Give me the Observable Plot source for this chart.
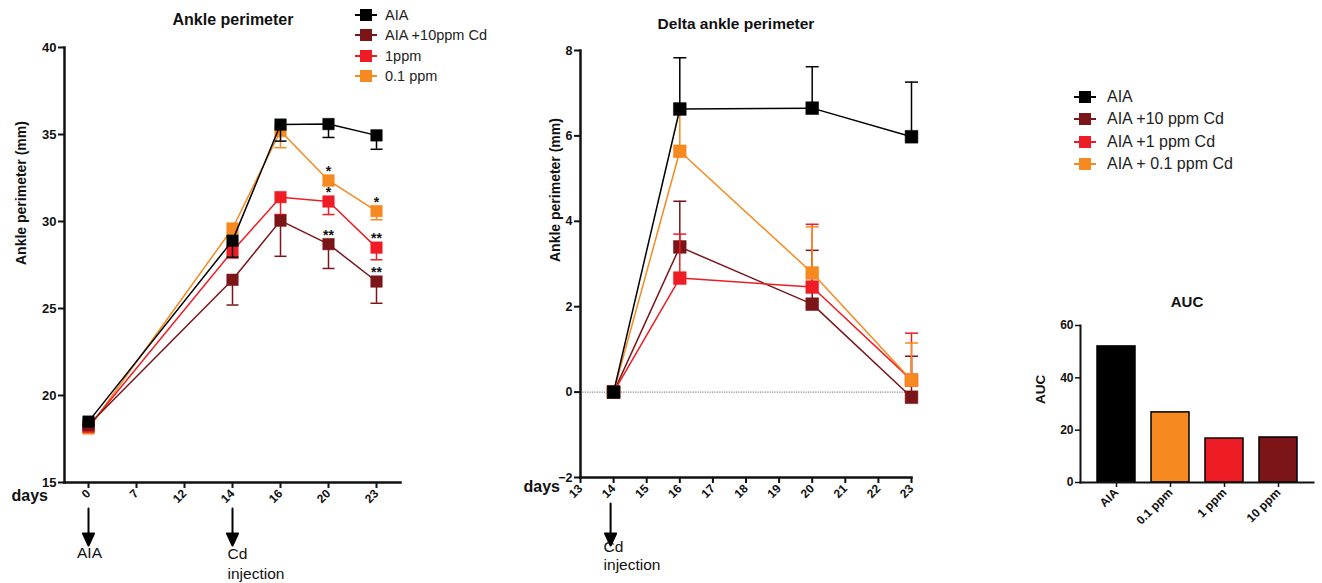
<!DOCTYPE html>
<html><head><meta charset="utf-8">
<script src="https://cdn.jsdelivr.net/npm/d3@7"></script>
<script src="https://cdn.jsdelivr.net/npm/@observablehq/plot@0.6"></script>
<style>
body{margin:0;background:#fff;font-family:"Liberation Sans",Arial,sans-serif;}
#wrap{position:relative;width:1322px;height:583px;overflow:hidden;background:#fff;}
.panel{position:absolute;top:0;}
.panel svg{overflow:visible;}
.title{position:absolute;font-weight:bold;transform:translateX(-50%);white-space:nowrap;color:#111;}
.legend{position:absolute;}
.legend .row{display:flex;align-items:center;white-space:nowrap;color:#222;}
.legend svg{display:block;}
</style>
</head><body>
<div id="wrap">
  <div class="panel" id="left" style="left:0px"></div>
  <div class="panel" id="mid" style="left:490px"></div>
  <div class="panel" id="auc" style="left:1030px;top:280px"></div>
  <div class="title" style="left:233px;top:11px;font-size:16px">Ankle perimeter</div>
  <div class="title" style="left:736px;top:15px;font-size:15.5px">Delta ankle perimeter</div>
  <div class="title" style="left:1187px;top:293px;font-size:15px">AUC</div>
  <div class="legend" id="legLeft" style="left:354px;top:5px"></div>
  <div class="legend" id="legRight" style="left:1073px;top:86px"></div>
</div>
<script>
// ---------- data ----------
const groups = ["AIA", "AIA +10ppm Cd", "1ppm", "0.1 ppm"];
const groupsRight = ["AIA", "AIA +10 ppm Cd", "AIA +1 ppm Cd", "AIA + 0.1 ppm Cd"];
const colors = ["#000000", "#7b1518", "#ee1d25", "#f6891f"];

const dayTicks = [0, 7, 12, 14, 16, 20, 23];
const perimDays = [0, 14, 16, 20, 23];
const perimAIA = [18.5, 28.9, 35.57, 35.6, 34.95];
const perim10  = [18.3, 26.65, 30.05, 28.7, 26.55];
const perim1   = [18.2, 28.3, 31.4, 31.15, 28.5];
const perim01  = [18.1, 29.6, 35.2, 32.36, 30.6];
const perimErrAIA = [0.2, 0.95, 0.95, 0.77, 0.8];
const perimErr10  = [0.2, 1.45, 2.05, 1.4, 1.25];
const perimErr1   = [0.2, 0.4, 1.0, 0.75, 0.7];
const perimErr01  = [0.2, 0.3, 0.96, 0.3, 0.5];
const starsAIA = ["", "", "", "", ""];
const stars10  = ["", "", "", "**", "**"];
const stars1   = ["", "", "", "*", "**"];
const stars01  = ["", "", "", "*", "*"];

const deltaDays = [14, 16, 20, 23];
const deltaTicks = [13, 14, 15, 16, 17, 18, 19, 20, 21, 22, 23];
const deltaAIA = [0, 6.63, 6.65, 5.98];
const delta10  = [0, 3.4, 2.06, -0.12];
const delta1   = [0, 2.67, 2.46, 0.28];
const delta01  = [0, 5.64, 2.79, 0.28];
const deltaErrAIA = [0, 1.2, 0.97, 1.28];
const deltaErr10  = [0, 1.07, 1.26, 0.96];
const deltaErr1   = [0, 1.03, 1.47, 1.1];
const deltaErr01  = [0, 0.95, 1.08, 0.87];

const aucGroups = ["AIA", "0.1 ppm", "1 ppm", "10 ppm"];
const aucValues = [52, 26.8, 16.8, 17.2];
const aucColors = ["#000000", "#f6891f", "#ee1d25", "#7b1518"];

const annotLeftAIA = [{day: 0, label: "AIA"}];
const annotLeftCd = [{day: 14, label: "Cd\ninjection"}];
const annotMid = [{day: 14, label: "Cd\ninjection"}];

// ---------- build tables ----------
const drawOrder = [3, 2, 1, 0]; // orange, red, maroon, black on top
const perimSeries = [perimAIA, perim10, perim1, perim01];
const perimErrs = [perimErrAIA, perimErr10, perimErr1, perimErr01];
const starSets = [starsAIA, stars10, stars1, stars01];
const deltaSeries = [deltaAIA, delta10, delta1, delta01];
const deltaErrs = [deltaErrAIA, deltaErr10, deltaErr1, deltaErr01];

const perimRows = drawOrder.flatMap(g => perimDays.map((d, i) => ({
  group: groups[g], color: colors[g], day: d, v: perimSeries[g][i],
  end: perimSeries[g][i] - perimErrs[g][i], star: starSets[g][i]
})));
const deltaRows = [1, 2, 3, 0].flatMap(g => deltaDays.map((d, i) => ({
  group: groups[g], color: colors[g], day: d, v: deltaSeries[g][i],
  end: deltaSeries[g][i] + deltaErrs[g][i]
})));
const aucRows = aucGroups.map((g, i) => ({group: g, v: aucValues[i], color: aucColors[i]}));

const capSymbol = {draw(ctx, size) { const w = Math.sqrt(size / Math.PI); ctx.moveTo(-w, 0); ctx.lineTo(w, 0); }};
const arrowShape = {draw(ctx, l, r) {
  ctx.moveTo(0, 0); ctx.lineTo(0, -l + 8);
  ctx.moveTo(-r, -l + 12); ctx.lineTo(0, -l); ctx.lineTo(r, -l + 12); ctx.closePath();
}};

const font = "Liberation Sans, Arial, sans-serif";
const baseStyle = {fontFamily: font, overflow: "visible", background: "transparent", color: "#111"};

function seriesMarks(rows, r, cap) {
  const marks = [];
  for (const g of [...new Set(rows.map(d => d.group))]) {
    const sub = rows.filter(d => d.group === g);
    const c = sub[0].color;
    marks.push(Plot.ruleX(sub.filter(d => d.end !== d.v), {x: "day", y1: "v", y2: "end", stroke: c, strokeWidth: 1.5}));
    marks.push(Plot.dot(sub.filter(d => d.end !== d.v), {x: "day", y: "end", symbol: capSymbol, r: cap, stroke: c, fill: "none", strokeWidth: 1.5}));
    marks.push(Plot.line(sub, {x: "day", y: "v", stroke: c, strokeWidth: 1.5}));
    marks.push(Plot.dot(sub, {x: "day", y: "v", symbol: "square", r: r, fill: c, stroke: c, strokeWidth: 0.5}));
  }
  return marks;
}

// ---------- left panel ----------
const left = Plot.plot({
  width: 460, height: 583,
  marginLeft: 64, marginRight: 60, marginTop: 47, marginBottom: 101,
  style: baseStyle,
  x: {type: "point", domain: dayTicks, padding: 0.45},
  y: {domain: [15, 40]},
  marks: [
    Plot.frame({anchor: "left", strokeWidth: 2.5}),
    Plot.frame({anchor: "bottom", strokeWidth: 2.5}),
    Plot.axisY({ticks: [15, 20, 25, 30, 35, 40], tickSize: 6, tickPadding: 2, strokeWidth: 2, fontWeight: "bold", fontSize: 13, label: null}),
    Plot.text(["Ankle perimeter (mm)"], {frameAnchor: "left", dx: -43, rotate: -90, fontSize: 14, fontWeight: "bold", fill: "#111"}),
    Plot.axisX({tickSize: 6, strokeWidth: 2, tickRotate: -45, tickPadding: 3, fontSize: 12, fontWeight: "bold", label: null}),
    Plot.text(["days"], {frameAnchor: "bottom-left", dx: -53, dy: 18, textAnchor: "start", fontSize: 16, fontWeight: "bold"}),
    ...seriesMarks(perimRows, 6.5, 6),
    Plot.text(perimRows.filter(d => d.star), {x: "day", y: "v", text: "star", dy: -9, fontSize: 14, fontWeight: "bold", fill: "#111"}),
    Plot.vector([...annotLeftAIA, ...annotLeftCd], {x: "day", frameAnchor: "bottom", dy: 26, length: 37, rotate: 180, anchor: "start", shape: arrowShape, r: 5.5, stroke: "#000", fill: "#000", strokeWidth: 2}),
    Plot.text(annotLeftAIA, {x: "day", frameAnchor: "bottom", dy: 64, dx: 1, text: "label", textAnchor: "middle", lineAnchor: "top", fontSize: 15.5, fill: "#111"}),
    Plot.text(annotLeftCd, {x: "day", frameAnchor: "bottom", dy: 63, dx: -5, text: "label", textAnchor: "start", lineAnchor: "top", fontSize: 15.5, lineHeight: 1.25, fill: "#111"})
  ]
});
document.getElementById("left").append(left);

// ---------- middle panel ----------
const mid = Plot.plot({
  width: 440, height: 583,
  marginLeft: 90, marginRight: 19, marginTop: 50, marginBottom: 106,
  style: baseStyle,
  x: {domain: [13, 23]},
  y: {domain: [-2, 8]},
  marks: [
    Plot.ruleY([0], {stroke: "#888", strokeDasharray: "1.2,1.2", strokeWidth: 1.2}),
    Plot.frame({anchor: "left", strokeWidth: 2.5}),
    Plot.frame({anchor: "bottom", strokeWidth: 2.5}),
    Plot.axisY({ticks: [-2, 0, 2, 4, 6, 8], tickSize: 6, tickPadding: 2, strokeWidth: 2, fontWeight: "bold", fontSize: 12.5, label: null}),
    Plot.text(["Ankle perimeter (mm)"], {frameAnchor: "left", dx: -25, dy: -2, rotate: -90, fontSize: 14, fontWeight: "bold", fill: "#111"}),
    Plot.axisX({ticks: deltaTicks, tickSize: 6, strokeWidth: 2, tickRotate: -45, tickPadding: 3, fontSize: 12, fontWeight: "bold", label: null}),
    Plot.text(["days"], {frameAnchor: "bottom-left", dx: -57, dy: 14, textAnchor: "start", fontSize: 16, fontWeight: "bold"}),
    ...seriesMarks(deltaRows, 7.2, 6.5),
    Plot.vector(annotMid, {x: "day", frameAnchor: "bottom", dy: 26, length: 42, rotate: 180, anchor: "start", shape: arrowShape, r: 5.5, stroke: "#000", fill: "#000", strokeWidth: 2, dx: -3}),
    Plot.text(annotMid, {x: "day", frameAnchor: "bottom", dy: 61, dx: -10, text: "label", textAnchor: "start", lineAnchor: "top", fontSize: 15.5, lineHeight: 1.2, fill: "#111"})
  ]
});
document.getElementById("mid").append(mid);

// ---------- AUC panel ----------
const auc = Plot.plot({
  width: 292, height: 303,
  marginLeft: 50, marginRight: 9, marginTop: 45, marginBottom: 101,
  style: baseStyle,
  x: {type: "band", domain: aucGroups, padding: 0.3},
  y: {domain: [0, 60]},
  marks: [
    Plot.barY(aucRows, {x: "group", y: "v", fill: "color", stroke: "#000", strokeWidth: 1.5}),
    Plot.frame({anchor: "left", strokeWidth: 2}),
    Plot.frame({anchor: "bottom", strokeWidth: 2}),
    Plot.axisY({ticks: [0, 20, 40, 60], tickSize: 5, tickPadding: 2, strokeWidth: 1.5, fontWeight: "bold", fontSize: 12, label: null}),
    Plot.text(["AUC"], {frameAnchor: "left", dx: -40, rotate: -90, fontSize: 13.5, fontWeight: "bold", fill: "#111"}),
    Plot.axisX({tickSize: 5, strokeWidth: 1.5, tickRotate: -45, tickPadding: 3, fontSize: 12, fontWeight: "bold", label: null})
  ]
});
document.getElementById("auc").append(auc);

// ---------- legends ----------
function legend(el, labels, rowH, fontSize, gap) {
  labels.forEach((lab, i) => {
    const row = document.createElement("div");
    row.className = "row";
    row.style.height = rowH + "px";
    row.style.fontSize = fontSize + "px";
    row.innerHTML = `<svg width="24" height="14"><line x1="1" x2="23" y1="7" y2="7" stroke="${colors[i]}" stroke-width="2"/><rect x="6" y="1" width="12" height="12" fill="${colors[i]}"/></svg><span style="margin-left:${gap}px">${lab}</span>`;
    el.append(row);
  });
}
legend(document.getElementById("legLeft"), groups, 20.3, 14.5, 7);
legend(document.getElementById("legRight"), groupsRight, 22.3, 16, 10);
</script>
</body></html>
